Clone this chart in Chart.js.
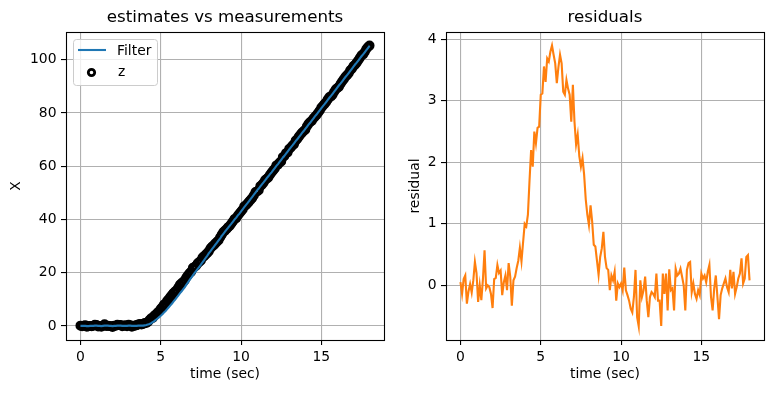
<!DOCTYPE html>
<html><head><meta charset="utf-8">
<script src="https://cdn.jsdelivr.net/npm/chart.js@4"></script>
<style>
html,body{margin:0;padding:0;background:#fff;}
#wrap{position:relative;width:773px;height:393px;overflow:hidden;}
canvas{position:absolute;left:0;top:0;}
</style></head><body>
<div id="wrap"><canvas id="c1" width="773" height="393"></canvas><canvas id="c2" width="773" height="393"></canvas></div>
<script>
const time = [
0,0.1,0.2,0.3,0.4,0.5,0.6,0.7,0.8,0.9,
1,1.1,1.2,1.3,1.4,1.5,1.6,1.7,1.8,1.9,
2,2.1,2.2,2.3,2.4,2.5,2.6,2.7,2.8,2.9,
3,3.1,3.2,3.3,3.4,3.5,3.6,3.7,3.8,3.9,
4,4.1,4.2,4.3,4.4,4.5,4.6,4.7,4.8,4.9,
5,5.1,5.2,5.3,5.4,5.5,5.6,5.7,5.8,5.9,
6,6.1,6.2,6.3,6.4,6.5,6.6,6.7,6.8,6.9,
7,7.1,7.2,7.3,7.4,7.5,7.6,7.7,7.8,7.9,
8,8.1,8.2,8.3,8.4,8.5,8.6,8.7,8.8,8.9,
9,9.1,9.2,9.3,9.4,9.5,9.6,9.7,9.8,9.9,
10,10.1,10.2,10.3,10.4,10.5,10.6,10.7,10.8,10.9,
11,11.1,11.2,11.3,11.4,11.5,11.6,11.7,11.8,11.9,
12,12.1,12.2,12.3,12.4,12.5,12.6,12.7,12.8,12.9,
13,13.1,13.2,13.3,13.4,13.5,13.6,13.7,13.8,13.9,
14,14.1,14.2,14.3,14.4,14.5,14.6,14.7,14.8,14.9,
15,15.1,15.2,15.3,15.4,15.5,15.6,15.7,15.8,15.9,
16,16.1,16.2,16.3,16.4,16.5,16.6,16.7,16.8,16.9,
17,17.1,17.2,17.3,17.4,17.5,17.6,17.7,17.8,17.9,
18];

const filterX = [
0.0,0.0,0.0,0.0,-0.1,-0.1,0.0,0.0,0.0,0.1,
0.1,0.0,0.0,-0.1,0.0,0.1,0.1,0.1,0.0,0.0,
-0.1,0.0,0.0,0.1,0.1,0.1,0.0,0.0,0.0,0.0,
0.1,0.1,0.0,0.0,0.0,0.0,0.1,0.1,0.1,0.1,
0.2,0.3,0.5,0.7,1.0,1.4,1.8,2.3,2.8,3.3,
3.8,4.4,5.0,5.6,6.3,7.0,7.7,8.4,9.2,9.9,
10.7,11.5,12.3,13.0,13.8,14.6,15.5,16.4,17.3,18.1,
19.0,19.8,20.6,21.4,22.2,23.0,23.9,24.7,25.6,26.4,
27.3,28.1,28.9,29.7,30.5,31.3,32.1,32.9,33.8,34.6,
35.4,36.2,36.9,37.7,38.4,39.2,40.0,40.7,41.5,42.2,
43.0,43.8,44.6,45.4,46.1,46.9,47.7,48.5,49.3,50.1,
50.9,51.6,52.4,53.2,53.9,54.7,55.5,56.2,57.0,57.7,
58.5,59.3,60.1,60.8,61.6,62.4,63.2,63.9,64.7,65.5,
66.3,67.1,67.8,68.6,69.4,70.1,70.9,71.7,72.5,73.2,
74.0,74.8,75.6,76.3,77.1,77.9,78.7,79.4,80.2,81.0,
81.8,82.6,83.3,84.1,84.9,85.7,86.4,87.2,88.0,88.8,
89.6,90.4,91.1,91.9,92.7,93.5,94.2,95.0,95.8,96.6,
97.4,98.2,98.9,99.7,100.5,101.3,102.0,102.8,103.6,104.4,
105.2];

const measZ = [
0.1,-0.1,0.1,0.2,-0.3,-0.1,0.0,-0.1,0.1,0.4,
0.3,-0.2,0.0,-0.3,0.1,0.6,0.0,0.1,0.0,-0.1,
-0.4,0.1,0.1,0.4,0.3,0.3,-0.1,0.1,0.2,-0.1,
0.4,0.2,-0.3,0.1,0.1,0.3,0.5,0.7,0.5,0.7,
1.1,1.1,1.5,2.2,2.9,3.0,3.9,4.3,5.0,5.5,
6.4,7.1,8.0,8.4,9.4,10.1,10.9,11.7,12.4,13.0,
13.5,14.5,15.5,16.1,16.5,17.2,18.3,19.1,19.9,20.4,
21.8,22.1,22.6,23.5,24.0,24.6,25.7,26.2,26.8,27.4,
28.1,29.2,29.8,30.3,31.0,31.6,32.2,33.3,34.3,35.3,
35.8,36.4,37.1,37.6,38.5,39.3,40.2,40.5,41.5,42.2,
43.0,43.7,44.9,45.3,46.0,46.7,47.4,48.1,49.1,50.3,
50.5,51.0,52.5,53.0,53.8,54.8,55.3,55.8,56.8,57.6,
58.4,59.1,60.3,60.6,61.4,61.8,63.4,63.8,64.9,65.2,
66.5,67.0,67.8,68.3,69.6,70.2,71.1,71.9,72.6,73.2,
73.7,75.0,75.9,76.6,77.0,77.9,78.6,79.2,80.1,80.9,
82.0,82.7,83.4,84.1,85.1,86.0,86.2,86.9,88.0,88.9,
89.4,89.9,91.0,91.9,92.7,93.6,94.2,94.9,96.0,96.6,
97.6,98.1,98.9,99.8,100.7,101.7,102.0,102.9,104.0,104.8,
105.3];

const residual = [
0.05,-0.14,0.10,0.16,-0.30,-0.10,0.02,-0.12,0.08,0.38,
0.20,-0.27,0.00,-0.24,0.10,0.57,-0.05,0.00,-0.03,-0.14,
-0.37,0.10,0.12,0.33,0.20,0.24,-0.16,0.05,0.16,-0.08,
0.36,0.14,-0.33,0.08,0.14,0.28,0.40,0.61,0.39,0.70,
1.00,0.96,1.15,1.70,2.20,1.93,2.50,2.31,2.56,2.58,
3.10,3.12,3.56,3.31,3.69,3.64,3.80,3.90,3.75,3.61,
3.29,3.55,3.75,3.61,3.15,3.10,3.34,3.20,3.10,2.66,
3.26,2.66,2.29,2.45,2.10,1.93,2.07,1.80,1.40,1.15,
0.98,1.30,1.04,0.66,0.63,0.40,0.17,0.46,0.60,0.87,
0.46,0.28,0.25,-0.08,0.16,0.08,0.22,-0.25,0.03,-0.03,
0.03,-0.08,0.29,-0.08,-0.16,-0.25,-0.38,-0.44,-0.19,0.25,
-0.52,-0.67,0.08,-0.19,-0.08,0.14,-0.25,-0.52,-0.19,-0.11,
-0.14,-0.19,0.19,-0.25,-0.25,-0.66,0.19,-0.14,0.19,-0.41,
0.26,-0.08,-0.05,-0.41,0.27,0.16,0.19,0.27,0.14,0.00,
-0.41,0.25,0.36,0.38,-0.11,0.03,-0.14,-0.22,-0.08,-0.16,
0.19,0.11,0.16,0.05,0.22,0.33,-0.19,-0.41,-0.05,0.16,
-0.19,-0.55,-0.16,-0.05,0.03,0.11,-0.03,-0.11,0.25,-0.05,
0.22,-0.14,-0.03,0.11,0.19,0.44,0.03,0.11,0.46,0.49,
0.08];

const xTicks = [0, 5, 10, 15];
const leftYTicks = [0, 20, 40, 60, 80, 100];
const rightYTicks = [0, 1, 2, 3, 4];

const FONT = "'DejaVu Sans', sans-serif";
const TXT = 13.9;

function pairs(xs, ys) { return xs.map((x, i) => ({x: x, y: ys[i]})); }

function makeScale(ticks, min, max, title, pos, fitSize, titlePad) {
  return {
    type: 'linear', position: pos, min: min, max: max,
    afterBuildTicks: s => { s.ticks = ticks.map(v => ({value: v})); },
    afterFit: s => { if (pos === 'bottom') s.height = fitSize; else s.width = fitSize; },
    grid: {color: '#b0b0b0', lineWidth: 1.1, tickColor: '#000', tickLength: 5, tickWidth: 1.1, drawTicks: true},
    border: {display: false},
    ticks: {color: '#000', font: {family: FONT, size: TXT}, padding: 4.5, autoSkip: false, maxRotation: 0, callback: v => String(v)},
    title: {display: true, text: title, color: '#000', font: {family: FONT, size: TXT}, padding: titlePad}
  };
}

const framePlugin = {
  id: 'frame',
  afterDatasetsDraw(chart) {
    const a = chart.chartArea, ctx = chart.ctx;
    ctx.save();
    ctx.strokeStyle = '#000'; ctx.lineWidth = 1.1;
    ctx.strokeRect(Math.round(a.left) + 0.5, Math.round(a.top) + 0.5, Math.round(a.right - a.left), Math.round(a.bottom - a.top));
    ctx.restore();
  }
};

const legendPlugin = {
  id: 'mplLegend',
  afterDraw(chart) {
    const a = chart.chartArea, ctx = chart.ctx;
    const ds = chart.data.datasets;
    const x0 = Math.round(a.left) + 7, y0 = Math.round(a.top) + 7, w = 84, h = 46;
    ctx.save();
    ctx.beginPath();
    ctx.roundRect(x0 + 0.5, y0 + 0.5, w, h, 3);
    ctx.fillStyle = 'rgba(255,255,255,0.8)'; ctx.fill();
    ctx.strokeStyle = '#cccccc'; ctx.lineWidth = 1; ctx.stroke();
    ctx.font = TXT + 'px ' + FONT; ctx.textBaseline = 'middle'; ctx.textAlign = 'left';
    // line entry
    ctx.strokeStyle = ds[0].borderColor; ctx.lineWidth = ds[0].borderWidth;
    ctx.beginPath(); ctx.moveTo(x0 + 5, y0 + 11); ctx.lineTo(x0 + 33, y0 + 11); ctx.stroke();
    ctx.fillStyle = '#000'; ctx.fillText(ds[0].label, x0 + 44, y0 + 12);
    // marker entry
    ctx.strokeStyle = ds[1].pointBorderColor; ctx.lineWidth = ds[1].pointBorderWidth;
    ctx.beginPath(); ctx.arc(x0 + 18.5, y0 + 33.5, 3.2, 0, Math.PI * 2); ctx.stroke();
    ctx.fillStyle = '#000'; ctx.fillText(ds[1].label, x0 + 45, y0 + 33);
    ctx.restore();
  }
};

const common = {
  responsive: false, animation: false, devicePixelRatio: 1, events: [],
};

new Chart(document.getElementById('c1'), {
  type: 'scatter',
  data: {
    datasets: [
      {label: 'Filter', data: pairs(time, filterX), showLine: true, borderColor: '#1f77b4', borderWidth: 2.1, pointRadius: 0, fill: false, tension: 0},
      {label: 'z', data: pairs(time, measZ), showLine: false, pointRadius: 3.6, pointBorderWidth: 2.8, pointBorderColor: '#000', pointBackgroundColor: 'rgba(0,0,0,0)'}
    ]
  },
  options: Object.assign({}, common, {
    layout: {padding: {left: 0, right: 389, top: 0, bottom: 0}},
    plugins: {
      legend: {display: false}, tooltip: {enabled: false},
      title: {display: true, fullSize: false, text: 'estimates vs measurements', color: '#000', font: {family: FONT, size: 16.7, weight: 'normal'}, padding: {top: 8, bottom: 4}}
    },
    scales: {
      x: makeScale(xTicks, -0.9, 18.9, 'time (sec)', 'bottom', 53, {top: 0, bottom: 10.5}),
      y: makeScale(leftYTicks, -5.3, 110.4, 'X', 'left', 66, {top: 7.7, bottom: 0})
    }
  }),
  plugins: [framePlugin, legendPlugin]
});

new Chart(document.getElementById('c2'), {
  type: 'scatter',
  data: {
    datasets: [
      {label: 'residual', data: pairs(time, residual), showLine: true, borderColor: '#ff7f0e', borderWidth: 2.1, pointRadius: 0, fill: false, tension: 0}
    ]
  },
  options: Object.assign({}, common, {
    layout: {padding: {left: 398, right: 9, top: 0, bottom: 0}},
    plugins: {
      legend: {display: false}, tooltip: {enabled: false},
      title: {display: true, fullSize: false, text: 'residuals', color: '#000', font: {family: FONT, size: 16.7, weight: 'normal'}, padding: {top: 8, bottom: 4}}
    },
    scales: {
      x: makeScale(xTicks, -0.9, 18.9, 'time (sec)', 'bottom', 53, {top: 0, bottom: 10.5}),
      y: makeScale(rightYTicks, -0.89, 4.12, 'residual', 'left', 48, {top: 8.7, bottom: 0})
    }
  }),
  plugins: [framePlugin]
});
</script>
</body></html>
